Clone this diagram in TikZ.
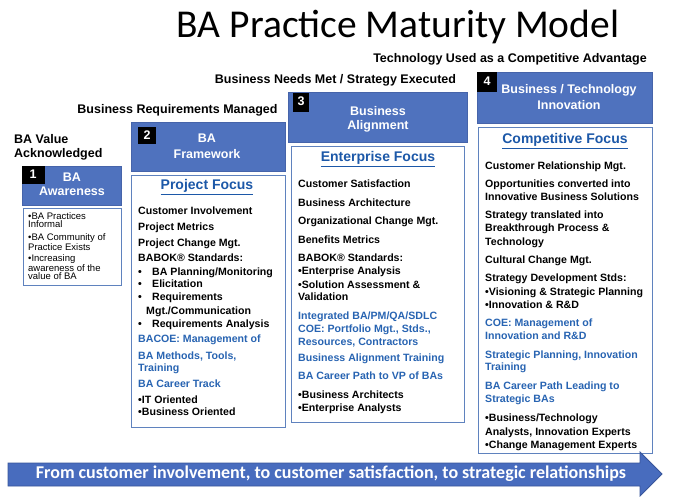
\documentclass[tikz,border=0pt]{standalone}
\usepackage{fontspec}
\setmainfont{Liberation Sans}
\newfontfamily\carlito{Carlito}
\definecolor{hdrblue}{RGB}{79,114,190}
\definecolor{hdredge}{RGB}{70,100,170}
\definecolor{boxedge}{RGB}{95,130,190}
\definecolor{txtblue}{RGB}{40,100,178}
\definecolor{headblue}{RGB}{28,88,168}
\definecolor{arrowfill}{RGB}{72,108,190}
\definecolor{arrowedge}{RGB}{55,85,155}
\newcommand{\bodyf}{\fontsize{10.6}{12}\selectfont\bfseries}
\tikzset{
  hdr/.style={fill=hdrblue, draw=hdredge, line width=0.6pt},
  numbox/.style={fill=black},
  cbox/.style={draw=boxedge, fill=white, line width=0.9pt},
  bt/.style={anchor=mid west, inner sep=0pt, font=\bodyf, text=black},
  bl/.style={bt, text=txtblue},
  small/.style={anchor=north west, inner sep=0pt, align=left, font=\fontsize{9.5}{8.2}\selectfont, text=black},
  lbl/.style={inner sep=0pt, font=\fontsize{12.5}{14}\selectfont\bfseries, text=black},
  hdrtxt/.style={inner sep=0pt, font=\fontsize{12.5}{14}\selectfont\bfseries, text=white},
  numtxt/.style={inner sep=0pt, font=\fontsize{12.5}{14}\selectfont\bfseries, text=white},
  focus/.style={inner sep=0pt, font=\fontsize{14}{16}\selectfont\bfseries, text=headblue}
}
\begin{document}
\begin{tikzpicture}[x=1pt,y=-1pt]
\useasboundingbox (0,0) rectangle (673,503);
\fill[white] (0,0) rectangle (673,503);

% title
\node[font=\carlito\fontsize{39.5}{44}\selectfont, anchor=base, inner sep=0pt] (title) at (398,38) {BA Practice Maturity Model};

% step labels
\node[lbl] (l4) at (510,59) {Technology Used as a Competitive Advantage};
\node[lbl] (l3) at (335.5,80) {Business Needs Met / Strategy Executed};
\node[lbl] (l2) at (177.5,110) {Business Requirements Managed};
\node[lbl, anchor=mid west] (l1a) at (14,141) {BA Value};
\node[lbl, anchor=mid west] (l1b) at (14,155) {Acknowledged};

% stage 1
\path[hdr] (22,166) rectangle (121,205);
\path[numbox] (22,166) rectangle (45,184);
\node[numtxt] (n1) at (33,174) {1};
\node[hdrtxt] (h1a) at (72,177) {BA};
\node[hdrtxt] (h1b) at (72,191) {Awareness};
\path[cbox] (23,208) rectangle (121,285);
\node[small] (s1-1) at (28,212.5) {•BA Practices\\Informal};
\node[small] (s1-2) at (28,233.5) {•BA Community of\\Practice Exists};
\node[small] (s1-3) at (28,254.5) {•Increasing\\awareness of the\\value of BA};

% stage 2
\path[hdr] (131,122) rectangle (285,171);
\path[numbox] (138,127) rectangle (156,144);
\node[numtxt] (n2) at (147,135) {2};
\node[hdrtxt] (h2a) at (207,138) {BA};
\node[hdrtxt] (h2b) at (207,154) {Framework};
\path[cbox] (131,175) rectangle (285,427);
\node[focus] (f2) at (207,187) {\underline{Project Focus}};
\foreach \y/\c/\t [count=\i] in {
  212/bt/{Customer Involvement},
  228/bt/{Project Metrics},
  244/bt/{Project Change Mgt.},
  259/bt/{BABOK® Standards:},
  273/bt/{\makebox[14pt][l]{•}BA Planning/Monitoring},
  285/bt/{\makebox[14pt][l]{•}Elicitation},
  298/bt/{\makebox[14pt][l]{•}Requirements},
  312/bt/{\hspace*{8pt}Mgt./Communication},
  325/bt/{\makebox[14pt][l]{•}Requirements Analysis},
  340/bl/{BACOE: Management of},
  357/bl/{BA Methods, Tools,},
  369/bl/{Training},
  385/bl/{BA Career Track},
  401/bt/{•IT Oriented},
  413/bt/{•Business Oriented}}
  \node[\c] (s2-\i) at (138,\y) {\t};

% stage 3
\path[hdr] (288,92) rectangle (467,142);
\path[numbox] (293,93) rectangle (309,112);
\node[numtxt] (n3) at (301,101) {3};
\node[hdrtxt] (h3a) at (378,111) {Business};
\node[hdrtxt] (h3b) at (378,126) {Alignment};
\path[cbox] (291,146) rectangle (464,422);
\node[focus] (f3) at (378,159) {\underline{Enterprise Focus}};
\foreach \y/\c/\t [count=\i] in {
  185/bt/{Customer Satisfaction},
  204/bt/{Business Architecture},
  222/bt/{Organizational Change Mgt.},
  241/bt/{Benefits Metrics},
  259/bt/{BABOK® Standards:},
  272/bt/{•Enterprise Analysis},
  286/bt/{•Solution Assessment \&},
  298/bt/{Validation},
  317/bl/{Integrated BA/PM/QA/SDLC},
  330/bl/{COE: Portfolio Mgt., Stds.,},
  343/bl/{Resources, Contractors},
  359/bl/{Business Alignment Training},
  377/bl/{BA Career Path to VP of BAs},
  396/bt/{•Business Architects},
  409/bt/{•Enterprise Analysts}}
  \node[\c] (s3-\i) at (298,\y) {\t};

% stage 4
\path[hdr] (477,72) rectangle (652,123);
\path[numbox] (477,72) rectangle (497,92);
\node[numtxt] (n4) at (487,81) {4};
\node[hdrtxt] (h4a) at (569,90) {Business / Technology};
\node[hdrtxt] (h4b) at (569,105) {Innovation};
\path[cbox] (478,127) rectangle (652,453);
\node[focus] (f4) at (565,141) {\underline{Competitive Focus}};
\foreach \y/\c/\t [count=\i] in {
  167/bt/{Customer Relationship Mgt.},
  185/bt/{Opportunities converted into},
  198/bt/{Innovative Business Solutions},
  216/bt/{Strategy translated into},
  229/bt/{Breakthrough Process \&},
  243/bt/{Technology},
  261/bt/{Cultural Change Mgt.},
  279/bt/{Strategy Development Stds:},
  293/bt/{•Visioning \& Strategic Planning},
  306/bt/{•Innovation \& R\&D},
  324/bl/{COE: Management of},
  337/bl/{Innovation and R\&D},
  356/bl/{Strategic Planning, Innovation},
  368/bl/{Training},
  387/bl/{BA Career Path Leading to},
  400/bl/{Strategic BAs},
  419/bt/{•Business/Technology},
  433/bt/{Analysts, Innovation Experts},
  446/bt/{•Change Management Experts}}
  \node[\c] (s4-\i) at (485,\y) {\t};

% bottom arrow
\path[fill=arrowfill, draw=arrowedge, line width=0.8pt]
  (8,463) -- (640,463) -- (640,452) -- (662,474) -- (640,496) -- (640,486) -- (8,486) -- cycle;
\node[font=\carlito\bfseries\fontsize{18}{20}\selectfont, text=white, inner sep=0pt] (arr) at (331,474)
  {From customer involvement, to customer satisfaction, to strategic relationships};
\end{tikzpicture}
\end{document}
